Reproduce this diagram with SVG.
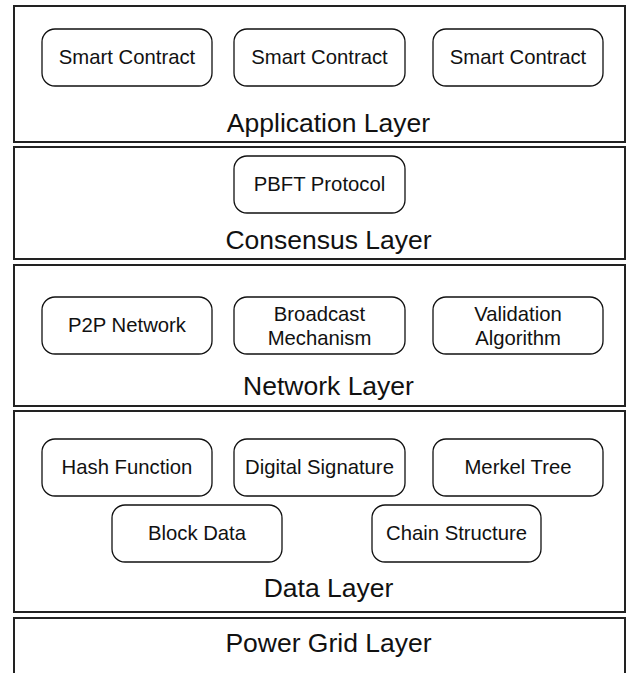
<svg xmlns="http://www.w3.org/2000/svg" width="627" height="673" viewBox="0 0 627 673">
<style>
.layer{fill:#fff;stroke:#222;stroke-width:2}
.node{fill:#fff;stroke:#111;stroke-width:1.3}
.t{font-family:"Liberation Sans",Arial,sans-serif;font-size:20.3px;fill:#111;text-anchor:middle}
.lt{font-family:"Liberation Sans",Arial,sans-serif;font-size:26.5px;fill:#111;text-anchor:middle}
</style>
<rect width="627" height="673" fill="#fff"/>
<g id="application-layer">
<rect class="layer" x="14" y="6" width="611" height="136"/>
<text class="lt" x="328.5" y="132">Application Layer</text>
</g>
<g id="smart-contract-1"><rect class="node" x="42" y="29" width="170" height="57" rx="13"/><text class="t" x="127" y="64">Smart Contract</text></g>
<g id="smart-contract-2"><rect class="node" x="234" y="29" width="171" height="57" rx="13"/><text class="t" x="319.5" y="64">Smart Contract</text></g>
<g id="smart-contract-3"><rect class="node" x="433" y="29" width="170" height="57" rx="13"/><text class="t" x="518" y="64">Smart Contract</text></g>
<g id="consensus-layer">
<rect class="layer" x="14" y="147" width="611" height="112"/>
<text class="lt" x="328.5" y="249">Consensus Layer</text>
</g>
<g id="pbft-protocol"><rect class="node" x="234" y="156" width="171" height="57" rx="13"/><text class="t" x="319.5" y="191">PBFT Protocol</text></g>
<g id="network-layer">
<rect class="layer" x="14" y="265" width="611" height="141"/>
<text class="lt" x="328.5" y="395">Network Layer</text>
</g>
<g id="p2p-network"><rect class="node" x="42" y="297" width="170" height="57" rx="13"/><text class="t" x="127" y="332">P2P Network</text></g>
<g id="broadcast-mechanism"><rect class="node" x="234" y="297" width="171" height="57" rx="13"/><text class="t" x="319.5" y="321">Broadcast</text><text class="t" x="319.5" y="345">Mechanism</text></g>
<g id="validation-algorithm"><rect class="node" x="433" y="297" width="170" height="57" rx="13"/><text class="t" x="518" y="321">Validation</text><text class="t" x="518" y="345">Algorithm</text></g>
<g id="data-layer">
<rect class="layer" x="14" y="411" width="611" height="201"/>
<text class="lt" x="328.5" y="597">Data Layer</text>
</g>
<g id="hash-function"><rect class="node" x="42" y="439" width="170" height="57" rx="13"/><text class="t" x="127" y="474">Hash Function</text></g>
<g id="digital-signature"><rect class="node" x="234" y="439" width="171" height="57" rx="13"/><text class="t" x="319.5" y="474">Digital Signature</text></g>
<g id="merkel-tree"><rect class="node" x="433" y="439" width="170" height="57" rx="13"/><text class="t" x="518" y="474">Merkel Tree</text></g>
<g id="block-data"><rect class="node" x="112" y="505" width="170" height="57" rx="13"/><text class="t" x="197" y="540">Block Data</text></g>
<g id="chain-structure"><rect class="node" x="372" y="505" width="169" height="57" rx="13"/><text class="t" x="456.5" y="540">Chain Structure</text></g>
<g id="power-grid-layer">
<rect class="layer" x="14" y="618" width="611" height="70"/>
<text class="lt" x="328.5" y="652">Power Grid Layer</text>
</g>
<g id="connectors"></g>
</svg>
